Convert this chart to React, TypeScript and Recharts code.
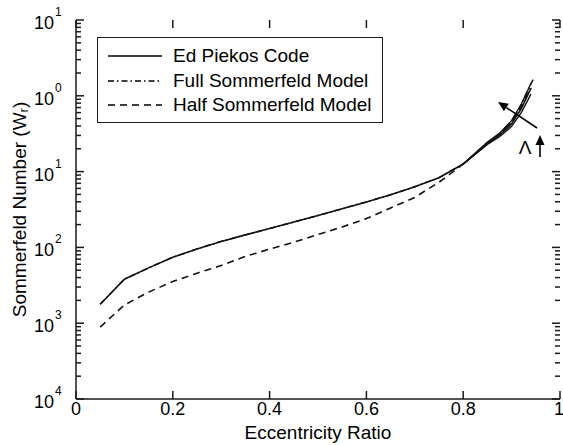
import React from 'react'
import {
  LineChart,
  Line,
  XAxis,
  YAxis,
  Legend,
  ReferenceLine,
  ReferenceDot,
} from 'recharts'

// eccentricity ratio (x) and Sommerfeld number (log y)
const ecc = [0.05, 0.1, 0.15, 0.2, 0.25, 0.3, 0.35, 0.4, 0.45, 0.5, 0.55, 0.6, 0.65, 0.7, 0.75, 0.8, 0.85, 0.875, 0.9, 0.92, 0.94, 0.945]
const piekos = [1.78e-3, 3.8e-3, 5.37e-3, 7.41e-3, 9.55e-3, 0.012, 0.01462, 0.01778, 0.02163, 0.0263, 0.0324, 0.0398, 0.0495, 0.0631, 0.0832, 0.126, 0.234, 0.302, 0.427, 0.676, 1.26, null]
// other Λ runs of the code, only visible where the curves fan out
const piekosHi = [null, null, null, null, null, null, null, null, null, null, null, null, null, null, null, 0.126, 0.245, 0.32, 0.47, 0.78, 1.45, null]
const piekosLo = [null, null, null, null, null, null, null, null, null, null, null, null, null, null, null, 0.126, 0.228, 0.288, 0.395, 0.6, 1.05, null]
const fullSommerfeld = [1.78e-3, 3.8e-3, 5.37e-3, 7.41e-3, 9.55e-3, 0.012, 0.01462, 0.01778, 0.02163, 0.0263, 0.0324, 0.0398, 0.0495, 0.0631, 0.0832, 0.126, 0.236, 0.305, 0.457, 0.76, 1.45, 1.66]
const halfSommerfeld = [8.9e-4, 1.74e-3, 2.57e-3, 3.55e-3, 4.57e-3, 5.75e-3, 7.6e-3, 9.5e-3, 0.0117, 0.0148, 0.0186, 0.024, 0.0331, 0.0457, 0.0724, 0.126, 0.238, 0.314, 0.445, 0.72, 1.26, null]

const xTicks = [0, 0.2, 0.4, 0.6, 0.8, 1]
const yMajor = [1e-4, 1e-3, 1e-2, 1e-1, 1, 10]
const minorMult = [2, 3, 4, 5, 6, 7, 8, 9]

const legendItems = [
  { name: 'Ed Piekos Code', dash: undefined },
  { name: 'Full Sommerfeld Model', dash: '6 3 1.5 3' },
  { name: 'Half Sommerfeld Model', dash: '7 5' },
]

// Λ annotation (data coords)
const lambdaArrow = [{ x: 0.9525, y: 0.376 }, { x: 0.872, y: 0.828 }]
const upArrow = [{ x: 0.9587, y: 0.156 }, { x: 0.9587, y: 0.304 }]
const lambdaPos = { x: 0.928, y: 0.211 }

const data = ecc.map((e, i) => ({
  ecc: e,
  piekos: piekos[i],
  piekosHi: piekosHi[i],
  piekosLo: piekosLo[i],
  full: fullSommerfeld[i],
  half: halfSommerfeld[i],
}))

const yTicks: number[] = []
yMajor.forEach((d) => {
  yTicks.push(d)
  if (d < 10) minorMult.forEach((m) => yTicks.push(m * d))
})

const FONT = '"Liberation Sans", Arial, Helvetica, sans-serif'
const INK = '#1a1a1a'

const isMajor = (v: number) => yMajor.some((m) => Math.abs(v - m) / m < 1e-6)

// labels only; the inward tick stubs are drawn with ReferenceLines below
const LeftTick = ({ x, y, payload }: any) => {
  const v = payload.value
  if (!isMajor(v)) return <g />
  const exp = Math.round(Math.log10(v))
  return (
    <g>
      <text x={x - 22} y={y + 9} textAnchor="end" fontSize={18} fontFamily={FONT} fill="#000">
        10
      </text>
      <text x={x - 21} y={y - 4} textAnchor="start" fontSize={12} fontFamily={FONT} fill="#000">
        {Math.abs(exp)}
      </text>
    </g>
  )
}

const BottomTick = ({ x, y, payload }: any) => {
  const v = payload.value
  const label = v === 0 || v === 1 ? String(v) : v.toFixed(1)
  return (
    <text x={x} y={y + 16} textAnchor="middle" fontSize={18} fontFamily={FONT} fill="#000">
      {label}
    </text>
  )
}

// short stubs at both ends of a full-width/height reference line
const stubShape = (len: number, vertical: boolean) => (props: any) => {
  const { x1, y1, x2, y2 } = props
  if (vertical) {
    const top = Math.min(y1, y2)
    const bot = Math.max(y1, y2)
    return (
      <g stroke={INK} strokeWidth={1.5}>
        <line x1={x1} x2={x1} y1={bot} y2={bot - len} />
        <line x1={x1} x2={x1} y1={top} y2={top + len} />
      </g>
    )
  }
  const l = Math.min(x1, x2)
  const r = Math.max(x1, x2)
  return (
    <g stroke={INK} strokeWidth={1.5}>
      <line x1={l} x2={l + len} y1={y1} y2={y1} />
      <line x1={r} x2={r - len} y1={y1} y2={y1} />
    </g>
  )
}

const ArrowShape = (props: any) => {
  const { x1, y1, x2, y2 } = props
  const ang = Math.atan2(y2 - y1, x2 - x1)
  const len = 10
  const hw = 4.5
  const bx = x2 - len * Math.cos(ang)
  const by = y2 - len * Math.sin(ang)
  const px = -Math.sin(ang) * hw
  const py = Math.cos(ang) * hw
  return (
    <g>
      <line x1={x1} y1={y1} x2={bx} y2={by} stroke="#000" strokeWidth={1.6} />
      <polygon points={`${x2},${y2} ${bx + px},${by + py} ${bx - px},${by - py}`} fill="#000" />
    </g>
  )
}

const LegendBox = () => (
  <div
    style={{
      width: 286,
      height: 86,
      boxSizing: 'border-box',
      border: `1.5px solid ${INK}`,
      background: '#fff',
      paddingTop: 6,
      fontFamily: FONT,
      fontSize: 19,
      color: '#000',
    }}
  >
    {legendItems.map((it) => (
      <div key={it.name} style={{ height: 24.5, display: 'flex', alignItems: 'center' }}>
        <svg width={54} height={10} style={{ marginLeft: 10 }}>
          <line x1={0} x2={54} y1={5} y2={5} stroke="#000" strokeWidth={1.5} strokeDasharray={it.dash} />
        </svg>
        <span style={{ marginLeft: 11, whiteSpace: 'nowrap' }}>{it.name}</span>
      </div>
    ))}
  </div>
)

export default function App() {
  return (
    <div style={{ width: 563, height: 445, background: '#fff' }}>
      <style>{'body{margin:0}'}</style>
      <LineChart width={563} height={445} data={data} margin={{ top: 20, right: 3, bottom: 0, left: 0 }}>
        <XAxis
          xAxisId="bottom"
          dataKey="ecc"
          type="number"
          domain={[0, 1]}
          ticks={xTicks}
          height={46}
          tickSize={0}
          tickMargin={0}
          tickLine={false}
          tick={<BottomTick />}
          axisLine={{ stroke: INK, strokeWidth: 1.5 }}
          label={{
            content: ({ viewBox }: any) => (
              <text
                x={viewBox.x + viewBox.width / 2}
                y={439}
                textAnchor="middle"
                fontSize={19}
                fontFamily={FONT}
                fill="#000"
              >
                Eccentricity Ratio
              </text>
            ),
          }}
        />
        <XAxis
          xAxisId="top"
          orientation="top"
          dataKey="ecc"
          type="number"
          domain={[0, 1]}
          ticks={xTicks}
          height={0}
          tick={false}
          tickLine={false}
          axisLine={{ stroke: INK, strokeWidth: 1.5 }}
        />
        <YAxis
          yAxisId="left"
          type="number"
          scale="log"
          domain={[1e-4, 10]}
          allowDataOverflow
          ticks={yTicks}
          interval={0}
          width={76}
          tickSize={0}
          tickMargin={0}
          tickLine={false}
          tick={<LeftTick />}
          axisLine={{ stroke: INK, strokeWidth: 1.5 }}
          label={{
            content: ({ viewBox }: any) => {
              const cx = 19
              const cy = viewBox.y + viewBox.height / 2
              return (
                <text
                  x={cx}
                  y={cy}
                  transform={`rotate(-90 ${cx} ${cy})`}
                  textAnchor="middle"
                  dominantBaseline="central"
                  fontSize={19}
                  fontFamily={FONT}
                  fill="#000"
                >
                  Sommerfeld Number (W
                  <tspan fontSize={13} dy={4}>r</tspan>
                  <tspan dy={-4}>)</tspan>
                </text>
              )
            },
          }}
        />
        <YAxis
          yAxisId="right"
          orientation="right"
          type="number"
          scale="log"
          domain={[1e-4, 10]}
          allowDataOverflow
          ticks={yMajor}
          width={0}
          tick={false}
          tickLine={false}
          axisLine={{ stroke: INK, strokeWidth: 1.5 }}
        />
        <Legend
          layout="horizontal"
          verticalAlign="middle"
          align="center"
          content={<LegendBox />}
          wrapperStyle={{ left: 97, top: 37, width: 286, height: 86 }}
        />
        {yTicks.map((v) => (
          <ReferenceLine
            key={`y${v}`}
            xAxisId="bottom"
            yAxisId="left"
            y={v}
            ifOverflow="visible"
            shape={stubShape(isMajor(v) ? 8 : 5, false)}
          />
        ))}
        {xTicks.map((v) => (
          <ReferenceLine
            key={`x${v}`}
            xAxisId="bottom"
            yAxisId="left"
            x={v}
            ifOverflow="visible"
            shape={stubShape(8, true)}
          />
        ))}
        <Line xAxisId="bottom" yAxisId="left" type="linear" dataKey="half" stroke="#111" strokeWidth={1.6} strokeDasharray="7 5" dot={false} isAnimationActive={false} legendType="none" />
        <Line xAxisId="bottom" yAxisId="left" type="linear" dataKey="full" stroke="#111" strokeWidth={1.5} strokeDasharray="6 3 1.5 3" dot={false} isAnimationActive={false} legendType="none" />
        <Line xAxisId="bottom" yAxisId="left" type="linear" dataKey="piekosHi" stroke="#111" strokeWidth={1.4} dot={false} isAnimationActive={false} legendType="none" />
        <Line xAxisId="bottom" yAxisId="left" type="linear" dataKey="piekosLo" stroke="#111" strokeWidth={1.4} dot={false} isAnimationActive={false} legendType="none" />
        <Line xAxisId="bottom" yAxisId="left" type="linear" dataKey="piekos" stroke="#111" strokeWidth={1.6} dot={false} isAnimationActive={false} legendType="none" />
        <ReferenceLine xAxisId="bottom" yAxisId="left" segment={lambdaArrow} shape={ArrowShape} />
        <ReferenceLine xAxisId="bottom" yAxisId="left" segment={upArrow} shape={ArrowShape} />
        <ReferenceDot
          xAxisId="bottom"
          yAxisId="left"
          x={lambdaPos.x}
          y={lambdaPos.y}
          r={0}
          shape={({ cx, cy }: any) => (
            <text x={cx} y={cy} textAnchor="middle" dominantBaseline="central" fontSize={19} fontFamily={FONT} fill="#000">
              Λ
            </text>
          )}
        />
      </LineChart>
    </div>
  )
}
